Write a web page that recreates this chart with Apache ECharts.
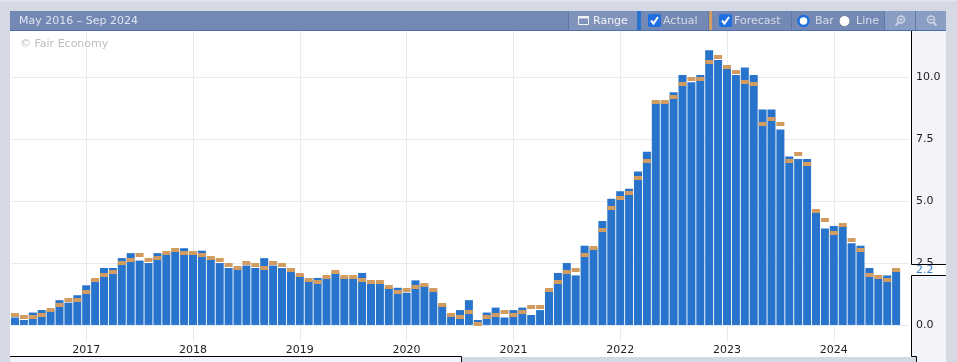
<!DOCTYPE html>
<html><head><meta charset="utf-8">
<style>html,body{margin:0;padding:0;background:#d5d9e3}#c{width:957px;height:362px}</style>
<script src="https://cdn.jsdelivr.net/npm/echarts@6/dist/echarts.min.js"></script>
</head><body><div id="c"></div>
<script>
const startYear = 2016, startMonth = 5, categoryCount = 101;
const yTicks = [0, 2.5, 5, 7.5, 10];
const actual = [0.3,0.2,0.5,0.6,0.6,1.0,0.9,1.2,1.6,1.8,
2.3,2.3,2.7,2.9,2.6,2.5,2.9,2.9,3.0,3.1,
2.9,3.0,2.7,2.5,2.3,2.3,2.4,2.3,2.7,2.4,
2.3,2.2,2.0,1.8,1.9,1.9,2.1,1.9,1.9,2.1,
1.7,1.7,1.5,1.5,1.3,1.8,1.6,1.4,0.8,0.4,
0.6,1.0,0.2,0.5,0.7,0.3,0.6,0.7,0.4,0.6,
1.4,2.1,2.5,2.0,3.2,3.1,4.2,5.1,5.4,5.5,
6.2,7.0,9.0,9.0,9.4,10.1,9.8,10.1,11.1,10.7,
10.4,10.1,10.4,10.1,8.7,8.7,7.9,6.8,6.7,6.7,
4.6,3.9,4.0,4.0,3.3,3.2,2.3,1.9,2.0,2.2];
const forecast = [0.5,0.4,0.4,0.5,0.7,0.9,1.1,1.1,1.4,1.9,
2.1,2.2,2.6,2.7,2.9,2.7,2.8,3.0,3.1,3.0,
3.0,2.9,2.8,2.7,2.5,2.4,2.6,2.5,2.4,2.6,
2.5,2.3,2.1,1.9,1.8,2.0,2.2,2.0,2.0,1.9,
1.8,1.8,1.6,1.4,1.5,1.6,1.7,1.5,0.9,0.5,
0.4,0.6,0.1,0.4,0.5,0.6,0.5,0.6,0.8,0.8,
1.5,1.8,2.2,2.3,2.9,3.2,3.9,4.8,5.2,5.4,
6.0,6.7,9.1,9.1,9.3,9.8,10.0,10.0,10.7,10.9,
10.5,10.3,9.9,9.8,8.2,8.4,8.2,6.7,7.0,6.6,
4.7,4.3,3.8,4.1,3.5,3.1,2.1,2.0,1.9,2.3];
const latestLabel = '2.2';

const categories = [];
for (let k = 0; k < categoryCount; k++) {
  const m = startMonth - 1 + k;
  categories.push((startYear + Math.floor(m / 12)) + '-' + String(m % 12 + 1).padStart(2, '0'));
}
const isJan = (i, v) => v.slice(5) === '01';

const FONT = '"DejaVu Sans", sans-serif';
const BLUE = '#2874cc', TAN = '#d29b5f';
const rect = (x, y, w, h, fill, z, r) => ({type:'rect', z, silent:true, shape:{x, y, width:w, height:h, r:r||0}, style:{fill}});
const line = (pts, stroke, z, lw) => ({type:'polyline', z, silent:true, shape:{points:pts}, style:{stroke, fill:null, lineWidth:lw||1}});
const text = (x, y, t, fill, z) => ({type:'text', z, silent:true, x, y, style:{text:t, fill, font:'11px ' + FONT, textVerticalAlign:'middle', textBaseline:'middle'}});
const circle = (cx, cy, r, fill, stroke, lw, z) => ({type:'circle', z, silent:true, shape:{cx, cy, r}, style:{fill, stroke, lineWidth:lw}});
const check = (x, z) => [rect(x, 14, 13, 13, '#1f6fe0', z, 2), line([[x+3,20.5],[x+5.5,23.5],[x+10,17]], '#fff', z+1, 2)];

const HZ = 60;
const ICON = '#ccd4e3';
const chrome = [
  rect(0, 0, 957, 1.5, '#e4e6ec', -2),
  rect(10, 31, 902, 326, '#ffffff', -1),
  rect(912, 31, 34, 326, '#f3f4f9', -1),
  rect(10, 357, 451, 5, '#f3f4f9', -1),
  rect(917, 357, 29, 5, '#f3f4f9', -1),
  rect(911, 265, 35, 10, '#ffffff', 50),
  line([[911.5,31],[911.5,264.5],[946,264.5]], '#000', 51),
  line([[946,275.5],[911.5,275.5],[911.5,356.5],[916.5,356.5],[916.5,362]], '#000', 51),
  line([[10,356.5],[461.5,356.5],[461.5,362]], '#000', 51),
  {type:'text', z:52, silent:true, x:916, y:270.5, style:{text:latestLabel, fill:'#3a7fc8', font:'11px ' + FONT, textVerticalAlign:'middle', textBaseline:'middle'}},
  text(20, 44.5, '\u00a9 Fair Economy', '#bdbdbd', 5),

  rect(10, 11, 936, 19, '#7389b4', HZ),
  rect(10, 30, 936, 1, '#4f6fab', HZ),
  text(19, 21, 'May 2016 \u2013 Sep 2024', '#dfe4ee', HZ+1),
  rect(569, 11, 68, 19, '#7f93bb', HZ),
  rect(568, 11, 1, 19, '#5c78ad', HZ+1),
  rect(637, 11, 4, 19, BLUE, HZ+1),
  rect(709, 11, 3, 19, TAN, HZ+1),
  rect(708, 11, 1, 19, '#5c78ad', HZ+1),
  rect(791, 11, 1, 19, '#5c78ad', HZ+1),
  rect(884, 11, 1, 19, '#5c78ad', HZ+1),
  rect(915, 11, 1, 19, '#5c78ad', HZ+1),
  rect(885, 11, 30, 19, '#8a9dc2', HZ),
  rect(916, 11, 30, 19, '#8a9dc2', HZ),
  {type:'rect', z:HZ+1, silent:true, shape:{x:578.5, y:16.5, width:10, height:8}, style:{fill:null, stroke:'#eef1f6', lineWidth:1}},
  rect(578.5, 16, 10, 2.5, '#eef1f6', HZ+1),
  text(593, 21, 'Range', '#f2f4f8', HZ+1),
  ...check(648, HZ+1),
  text(663, 21, 'Actual', '#d6dce8', HZ+1),
  ...check(719, HZ+1),
  text(734, 21, 'Forecast', '#d6dce8', HZ+1),
  circle(803.5, 21, 5, '#ffffff', '#1f6fe0', 2.5, HZ+1),
  text(815, 21, 'Bar', '#d6dce8', HZ+1),
  circle(844.5, 21, 5.5, '#ffffff', '#6d7f9f', 1, HZ+1),
  text(856, 21, 'Line', '#d6dce8', HZ+1),
  circle(901, 19.5, 3.5, null, ICON, 1.5, HZ+1),
  line([[899,19.5],[903,19.5]], ICON, HZ+1, 1),
  line([[901,17.5],[901,21.5]], ICON, HZ+1, 1),
  line([[898.5,22.5],[895.5,25.5]], ICON, HZ+1, 2),
  circle(931, 19.5, 3.5, null, ICON, 1.5, HZ+1),
  line([[929,19.5],[933,19.5]], ICON, HZ+1, 1),
  line([[933.5,22.5],[936.5,25.5]], ICON, HZ+1, 2)
];

const markerHeight = 4, markerWidth = 8;
const option = {
  backgroundColor: '#d5d9e3',
  animation: false,
  textStyle: {fontFamily: FONT},
  grid: {left: 10.55, right: 957 - 909.45, top: 31, bottom: 362 - 342, containLabel: false},
  xAxis: {
    type: 'category', data: categories, boundaryGap: true,
    axisLine: {show: false}, axisTick: {show: false},
    axisLabel: {interval: isJan, formatter: v => v.slice(0, 4), color: '#222', fontSize: 11, margin: 3, fontFamily: FONT, hideOverlap: false},
    splitLine: {show: true, interval: isJan, alignWithLabel: true, lineStyle: {color: '#e8e9f1', width: 1}}
  },
  yAxis: {
    type: 'value', position: 'right', offset: 1.55, min: -0.69, max: 11.875,
    axisLine: {show: false},
    axisTick: {show: false, customValues: yTicks},
    axisLabel: {customValues: yTicks, formatter: v => v.toFixed(1), color: '#222', fontSize: 11, margin: 5, padding: [2, 0, 0, 0], fontFamily: FONT, showMinLabel: true, showMaxLabel: true},
    splitLine: {show: true, lineStyle: {color: '#e8e9f1', width: 1}}
  },
  graphic: {elements: chrome},
  series: [
    {name: 'Actual', type: 'bar', data: actual, barWidth: 8, itemStyle: {color: BLUE}, z: 2},
    {name: 'Forecast', type: 'custom', z: 3, clip: false,
      data: forecast.map((v, i) => [i, v]),
      encode: {x: 0, y: 1},
      renderItem: (params, api) => {
        const p = api.coord([api.value(0), api.value(1)]);
        return {type: 'rect', shape: {x: p[0] - markerWidth / 2, y: Math.round(p[1]), width: markerWidth, height: markerHeight}, style: {fill: TAN}};
      }}
  ]
};
echarts.init(document.getElementById('c'), null, {renderer: 'canvas'}).setOption(option);
</script></body></html>
